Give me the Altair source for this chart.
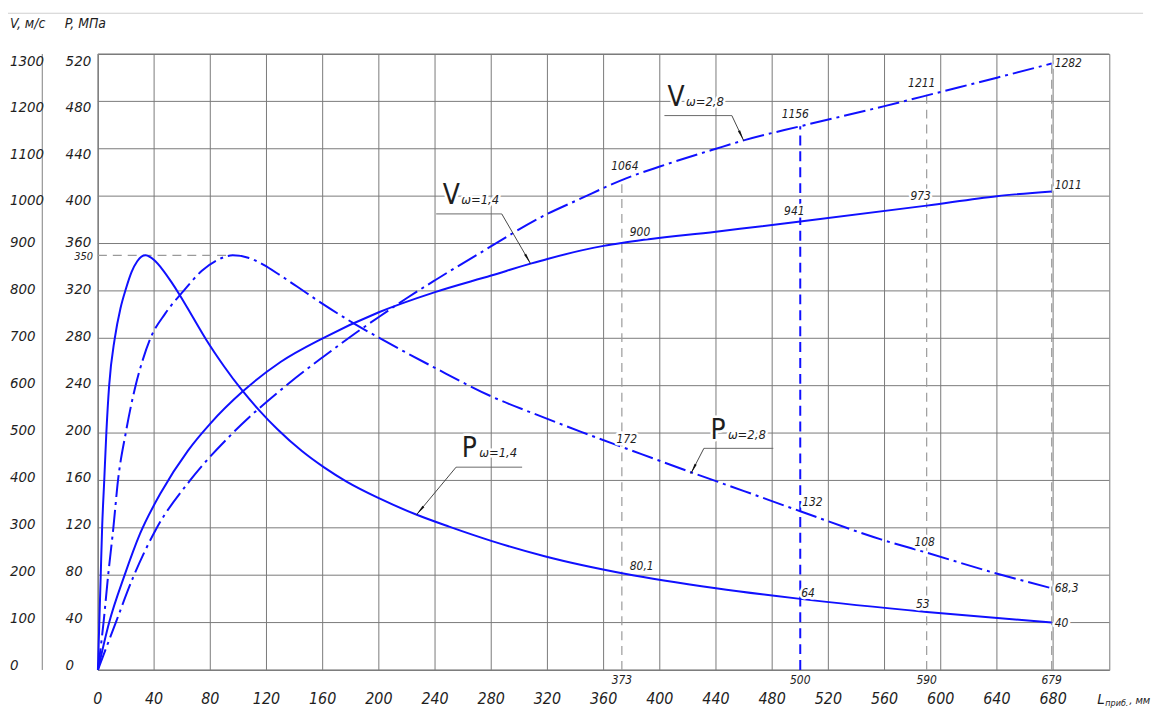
import altair as alt
import pandas as pd

# ---------------- data ----------------
X_TICKS = list(range(0, 681, 40))
P_TICKS = list(range(0, 521, 40))
V_TICKS = list(range(0, 1301, 100))

# P (MPa) along barrel, omega = 1.4 (solid)
P14_X = [0, 1, 2, 3, 4.5, 6, 8, 12, 16, 20, 24, 28, 31, 34, 40, 46, 52, 58, 67, 77, 90, 102,
         115, 128, 145, 161, 177, 200, 227, 250, 280, 318, 376, 440, 500, 590, 679]
P14_Y = [0, 40, 80, 120, 160, 200, 240, 280, 305, 322, 336, 345, 349, 350, 346, 338, 328, 317,
         299, 279, 256, 237, 219, 203, 185, 171, 159, 145, 131, 121, 109, 96, 81, 69, 60, 49, 40]

# P (MPa), omega = 2.8 (dash-dot)
P28_X = [0, 4, 7.3, 11, 14.3, 19.8, 26.8, 32, 37.4, 48, 61, 74, 85, 96, 107, 118, 130, 142, 160,
         183, 200, 240, 280, 320, 344, 376, 422, 460, 500, 558, 590, 638, 679]
P28_Y = [0, 40, 80, 120, 160, 200, 240, 262, 280, 301, 320, 337, 346, 350, 348, 342, 333, 323.5,
         309, 292, 280.5, 255, 231, 212, 201, 187, 167, 151, 134, 110, 99, 82, 69]

# V (m/s) expressed on the P scale (V / 2.5), omega = 1.4 (solid)
V14_X = [0, 8, 19, 30, 45, 64, 80, 103, 130, 160, 200, 240, 280, 308, 320, 360, 376, 440, 500,
         590, 640, 679]
V14_Y = [0, 40, 80, 115, 150, 185, 208, 235, 260, 280, 302, 319, 333, 343, 347, 358, 361, 370,
         378.5, 392, 400, 404]

# V / 2.5, omega = 2.8 (dash-dot)
V28_X = [0, 12.7, 25, 41, 65.6, 96, 136, 160, 183, 200, 220, 240, 272, 320, 342, 376, 400, 440,
         461, 500, 560, 600, 640, 679]
V28_Y = [0, 40, 78, 118, 160, 200, 242, 264, 284, 298, 314, 329, 352, 385, 397, 415, 425, 440,
         447.5, 459, 476, 488, 500, 512]

# marked stations
MARK_X = [373, 590, 679]
MARK_TOP = [415, 487, 512]
BLUE_MARK_X = [500]
BLUE_MARK_TOP = [459]
PEAK_P = [350]
PEAK_X_END = [96]
STATION_LABELS = ["373", "500", "590", "679"]
STATION_X = [373, 500, 590, 679]

# value labels
LAB_TEXT = ["1064", "1156", "1211", "1282", "900", "941", "973", "1011",
            "172", "132", "108", "68,3", "80,1", "64", "53", "40"]
LAB_X = [373, 500, 590, 679, 373, 500, 590, 679, 373, 500, 590, 679, 373, 500, 590, 679]
LAB_P = [415, 459, 487, 512, 361, 378.5, 392, 404, 187, 134, 99, 69, 81, 60, 49, 40]

# curve name annotations
ANN_LETTER = ["V", "V", "P", "P"]
ANN_SUB = ["ω=1,4", "ω=2,8", "ω=1,4", "ω=2,8"]
ANN_X = [251.6, 411.6, 264.4, 441.4]
ANN_Y = [393.5, 475.7, 179.8, 194.9]
UL_X0 = [240.8, 403.3, 255.0, 431.4]
UL_X1 = [287.5, 451.3, 302.0, 480.8]
UL_Y = [385.0, 468.0, 171.2, 187.1]
LEAD_X0 = [287.5, 451.3, 255.0, 431.4]
LEAD_Y0 = [385.0, 468.0, 171.2, 187.1]
LEAD_X1 = [308.0, 459.7, 226.8, 422.0]
LEAD_Y1 = [343.0, 446.9, 131.0, 165.5]

# ---------------- styling ----------------
FONT = "DejaVu Sans Condensed, Liberation Sans Narrow, Liberation Sans, sans-serif"
BLUE = "#1010ff"
GRID = "#7a7a7a"
TXT = "#1e1e1e"
W, H = 1018, 620
DASHDOT = [22, 5, 3, 5]

xs = alt.Scale(domain=[0, 720], nice=False, zero=False)
ys = alt.Scale(domain=[0, 520], nice=False, zero=False)


def ex(f):
    return alt.X(f, type="quantitative", scale=xs, axis=None)


def ey(f):
    return alt.Y(f, type="quantitative", scale=ys, axis=None)


layers = []

# grid
layers.append(alt.Chart(pd.DataFrame({"x": X_TICKS, "b": [0] * len(X_TICKS), "t": [520] * len(X_TICKS)}))
              .mark_rule(color=GRID, strokeWidth=1).encode(x=ex("x"), y=ey("b"), y2="t:Q"))
layers.append(alt.Chart(pd.DataFrame({"y": P_TICKS, "l": [0] * len(P_TICKS), "r": [720] * len(P_TICKS)}))
              .mark_rule(color=GRID, strokeWidth=1).encode(y=ey("y"), x=ex("l"), x2="r:Q"))

# page line at the very top and the V-axis separator line
layers.append(alt.Chart(pd.DataFrame({"a": [0]})).mark_rule(color="#cfcfcf", strokeWidth=1).encode(
    x=alt.value(-91), x2=alt.value(1052), y=alt.value(-41)))
layers.append(alt.Chart(pd.DataFrame({"a": [0]})).mark_rule(color="#808080", strokeWidth=1).encode(
    x=alt.value(-56), y=alt.value(0), y2=alt.value(H)))

# dashed helper lines
layers.append(alt.Chart(pd.DataFrame({"x": MARK_X, "top": MARK_TOP, "b": [0] * len(MARK_X)}))
              .mark_rule(color="#9a9a9a", strokeWidth=1.2, strokeDash=[9, 6])
              .encode(x=ex("x"), y=ey("b"), y2="top:Q"))
layers.append(alt.Chart(pd.DataFrame({"y": PEAK_P, "x0": [0], "x1": PEAK_X_END}))
              .mark_rule(color="#9a9a9a", strokeWidth=1.2, strokeDash=[9, 6])
              .encode(x=ex("x0"), x2="x1:Q", y=ey("y")))
layers.append(alt.Chart(pd.DataFrame({"x": BLUE_MARK_X, "top": BLUE_MARK_TOP, "b": [0]}))
              .mark_rule(color=BLUE, strokeWidth=2, strokeDash=[10, 6])
              .encode(x=ex("x"), y=ey("b"), y2="top:Q"))


def curve(xv, yv, dash=None):
    df = pd.DataFrame({"x": xv, "y": yv})
    props = dict(color=BLUE, strokeWidth=2, interpolate="monotone")
    if dash:
        props["strokeDash"] = dash
    return alt.Chart(df).mark_line(**props).encode(x=ex("x"), y=ey("y"))


layers += [curve(P14_X, P14_Y), curve(P28_X, P28_Y, DASHDOT),
           curve(V14_X, V14_Y), curve(V28_X, V28_Y, DASHDOT)]

# underlines and leaders
layers.append(alt.Chart(pd.DataFrame({"x0": UL_X0, "x1": UL_X1, "y": UL_Y}))
              .mark_rule(color="#6a6a6a", strokeWidth=1).encode(x=ex("x0"), x2="x1:Q", y=ey("y")))
lead = pd.DataFrame({"x0": LEAD_X0, "y0": LEAD_Y0, "x1": LEAD_X1, "y1": LEAD_Y1})
layers.append(alt.Chart(lead).mark_rule(color="#333333", strokeWidth=0.9)
              .encode(x=ex("x0"), x2="x1:Q", y=ey("y0"), y2="y1:Q"))
kx, ky = W / 720, H / 520
layers.append(alt.Chart(lead).transform_calculate(
    ang=f"(atan2((datum.x1-datum.x0)*{kx}, (datum.y1-datum.y0)*{ky})*180/PI + 360) % 360"
).mark_point(shape="M0,0L-0.22,2L0.22,2Z", filled=True, color="#111111", size=120, opacity=1,
             strokeWidth=0).encode(x=ex("x1"), y=ey("y1"), angle=alt.Angle("ang:Q", scale=None)))


def text_layers(df, xenc, yenc, halo=True, field="t:N", **props):
    out = []
    if halo:
        out.append(alt.Chart(df).mark_text(font=FONT, fill="white", stroke="white", strokeWidth=5,
                                           strokeJoin="round", **props)
                   .encode(x=xenc, y=yenc, text=field))
    out.append(alt.Chart(df).mark_text(font=FONT, fill=TXT, **props).encode(x=xenc, y=yenc, text=field))
    return out


# value labels (one layer each, offsets are styling)
OFFS = [("center", 3, -12), ("center", -5, -12), ("center", -5, -10), ("left", 3, 0),
        ("left", 8, -10), ("center", -6, -11), ("center", -6, -10), ("left", 3, -6),
        ("center", 5, -9), ("left", 2, -9), ("center", -2, -11), ("left", 3, 0),
        ("left", 8, -8), ("left", 1, -6), ("center", -4, -8), ("left", 3, 0)]
for i, t in enumerate(LAB_TEXT):
    al, dx, dy = OFFS[i]
    df = pd.DataFrame({"t": [t], "x": [LAB_X[i]], "y": [LAB_P[i]]})
    layers += text_layers(df, ex("x"), ey("y"), align=al, baseline="middle", dx=dx, dy=dy,
                          fontSize=12, fontStyle="italic")

# 350 level label
layers += text_layers(pd.DataFrame({"t": ["350"], "x": [0], "y": PEAK_P}), ex("x"), ey("y"),
                      halo=False, align="right", baseline="middle", dx=-5, dy=2,
                      fontSize=11, fontStyle="italic")

# curve names
ann = pd.DataFrame({"t": ANN_LETTER, "s": ANN_SUB, "x": ANN_X, "y": ANN_Y})
layers += text_layers(ann, ex("x"), ey("y"), align="center", baseline="alphabetic", fontSize=28)
layers += text_layers(ann, ex("x"), ey("y"), field="s:N", align="left", baseline="alphabetic",
                      dx=10, fontSize=13, fontStyle="italic")

# x tick labels and station labels under the axis
xt = pd.DataFrame({"t": [str(v) for v in X_TICKS], "x": X_TICKS})
layers += text_layers(xt, ex("x"), alt.value(H + 29), halo=False, align="center",
                      baseline="middle", fontSize=16, fontStyle="italic")
st = pd.DataFrame({"t": STATION_LABELS, "x": STATION_X})
layers += text_layers(st, ex("x"), alt.value(H + 10), halo=False, align="center",
                      baseline="middle", fontSize=12, fontStyle="italic")

# left scales (P and V columns); label placement relative to grid as on the drawing
PK = 1.1923
SHIFT = (f"(datum.q >= 400 ? datum.q - (4 + (datum.q - 400) * 0.025) / {PK}"
         f" : datum.q + (2 + (360 - datum.q) / 120) / {PK})")
pl = pd.DataFrame({"t": [str(v) for v in P_TICKS], "p": P_TICKS})
layers.append(alt.Chart(pl).transform_calculate(q="datum.p").transform_calculate(yy=SHIFT)
              .mark_text(font=FONT, fill=TXT, align="left", baseline="middle", fontSize=15,
                         fontStyle="italic")
              .encode(x=alt.value(-32.5), y=ey("yy"), text="t:N"))
vl = pd.DataFrame({"t": [str(v) for v in V_TICKS], "v": V_TICKS})
layers.append(alt.Chart(vl).transform_calculate(q="datum.v / 2.5").transform_calculate(yy=SHIFT)
              .mark_text(font=FONT, fill=TXT, align="left", baseline="middle", fontSize=15,
                         fontStyle="italic")
              .encode(x=alt.value(-88.5), y=ey("yy"), text="t:N"))


# axis titles
def title_text(t, x, y, size, **kw):
    return alt.Chart(pd.DataFrame({"t": [t]})).mark_text(
        font=FONT, fill=TXT, fontSize=size, fontStyle="italic", align="left", **kw
    ).encode(x=alt.value(x), y=alt.value(y), text="t:N")


layers.append(title_text("V, м/с", -88.5, -30, 14, baseline="middle"))
layers.append(title_text("P, МПа", -33.5, -30, 14, baseline="middle"))
layers.append(title_text("L", 1006, H + 34, 15, baseline="alphabetic"))
layers.append(title_text("приб.", 1014, H + 36, 9, baseline="alphabetic"))
layers.append(title_text(", мм", 1038, H + 34, 11, baseline="alphabetic"))

chart = alt.layer(*layers).properties(
    width=W, height=H,
    autosize=alt.AutoSizeParams(type="none"),
    padding={"left": 90.5, "top": 44, "right": 44, "bottom": 37},
    background="white",
).configure_view(stroke=GRID, strokeWidth=1)

chart.save("out.html", embed_options={"renderer": "svg", "actions": False})
